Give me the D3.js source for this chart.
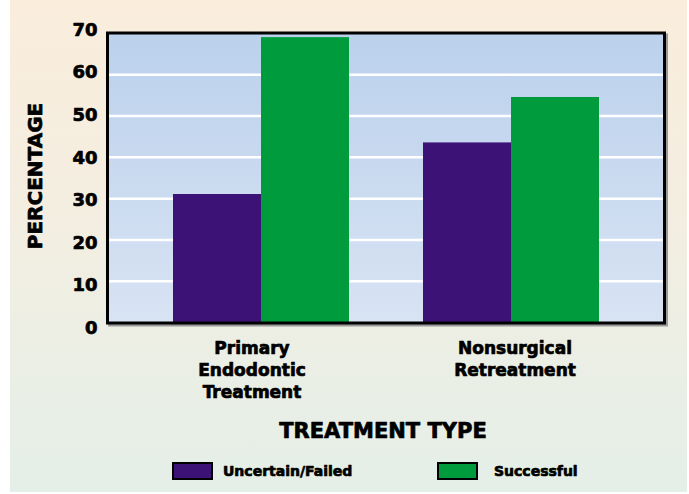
<!DOCTYPE html>
<html>
<head>
<meta charset="utf-8">
<script src="https://cdn.jsdelivr.net/npm/d3@7"></script>
<style>
  html, body { margin: 0; padding: 0; background: #ffffff; }
  svg { display: block; }
  text { font-family: "DejaVu Sans", "Liberation Sans", sans-serif; font-weight: bold; fill: #000;
         stroke: #000; stroke-width: 0.7px; stroke-linejoin: round; }
</style>
</head>
<body>
<svg id="chart" width="689" height="494"></svg>
<script>
// Outcome percentages by treatment type
const categories = ["Primary Endodontic Treatment", "Nonsurgical Retreatment"];
const categoryLines = [["Primary", "Endodontic", "Treatment"], ["Nonsurgical", "Retreatment"]];
const seriesNames = ["Uncertain/Failed", "Successful"];
const uncertainFailed = [31, 43.5];
const successful = [69, 54.5];
const yTicks = [0, 10, 20, 30, 40, 50, 60, 70];
const seriesColors = ["#3d1277", "#009b3c"];

const svg = d3.select("#chart");
const plot = { left: 107.5, right: 664.5, top: 33, bottom: 322 };

// gradients
const defs = svg.append("defs");
const bgGrad = defs.append("linearGradient").attr("id", "bgGrad")
  .attr("x1", 0).attr("y1", 0).attr("x2", 0).attr("y2", 1);
bgGrad.append("stop").attr("offset", "0%").attr("stop-color", "#faeddc");
bgGrad.append("stop").attr("offset", "45%").attr("stop-color", "#f3eee1");
bgGrad.append("stop").attr("offset", "100%").attr("stop-color", "#e4efe8");

const plotGrad = defs.append("linearGradient").attr("id", "plotGrad")
  .attr("x1", 0).attr("y1", 0).attr("x2", 0).attr("y2", 1);
plotGrad.append("stop").attr("offset", "0%").attr("stop-color", "#bbd1ec");
plotGrad.append("stop").attr("offset", "100%").attr("stop-color", "#d8e3f3");

// page panel
svg.append("rect").attr("x", 10).attr("y", 0).attr("width", 677).attr("height", 492)
  .attr("fill", "url(#bgGrad)");

// scales
const x0 = d3.scaleBand().domain(categories)
  .range([plot.left, plot.right]).paddingInner(0.296).paddingOuter(0.262);
const x1 = d3.scaleBand().domain(seriesNames).range([0, x0.bandwidth()]);
const y = d3.scaleLinear().domain([0, 70]).range([plot.bottom, plot.top]);
// tick labels sit on a slightly wider spread than the gridlines
const yLabel = d3.scaleLinear().domain([0, 70]).range([327, 28.7]);

// frame shadow and plot background
svg.append("rect").attr("x", plot.left + 2).attr("y", plot.top + 2)
  .attr("width", plot.right - plot.left).attr("height", plot.bottom - plot.top + 1)
  .attr("fill", "none").attr("stroke", "#9a9a9a").attr("stroke-width", 3);
svg.append("rect").attr("x", plot.left).attr("y", plot.top)
  .attr("width", plot.right - plot.left).attr("height", plot.bottom - plot.top)
  .attr("fill", "url(#plotGrad)");

// gridlines
const yAxisGrid = d3.axisLeft(y).tickValues(yTicks.slice(1, -1))
  .tickSize(-(plot.right - plot.left)).tickFormat("");
svg.append("g").attr("transform", `translate(${plot.left},0)`).call(yAxisGrid)
  .call(g => g.select(".domain").remove())
  .call(g => g.selectAll("line").attr("stroke", "#ffffff").attr("stroke-width", 2.5));

// bars
const rows = categories.map((c, i) => ({ cat: c, values: [uncertainFailed[i], successful[i]] }));
const groups = svg.append("g").selectAll("g").data(rows).join("g")
  .attr("transform", d => `translate(${x0(d.cat)},0)`);
groups.selectAll("rect").data(d => d.values.map((v, k) => ({ name: seriesNames[k], v, k })))
  .join("rect")
  .attr("x", d => x1(d.name))
  .attr("y", d => y(d.v))
  .attr("width", x1.bandwidth())
  .attr("height", d => y(0) - y(d.v))
  .attr("fill", d => seriesColors[d.k]);

// frame
svg.append("rect").attr("x", plot.left).attr("y", plot.top)
  .attr("width", plot.right - plot.left).attr("height", plot.bottom - plot.top + 1)
  .attr("fill", "none").attr("stroke", "#000").attr("stroke-width", 3);

// y tick labels
const yAxis = d3.axisLeft(yLabel).tickValues(yTicks).tickSize(0).tickPadding(10);
svg.append("g").attr("transform", `translate(${plot.left},0)`).call(yAxis)
  .call(g => g.select(".domain").remove())
  .call(g => g.selectAll("text").attr("font-size", 18)
    .attr("font-family", "DejaVu Sans").attr("font-weight", "bold").attr("fill", "#000")
    .attr("dy", "0.36em"));

// category labels
const catLabels = svg.append("g").selectAll("text").data(categories).join("text")
  .attr("text-anchor", "middle").attr("font-size", 17)
  .attr("transform", (d, i) => `translate(${x0(d) + x0.bandwidth() / 2 + (i === 0 ? -9 : 4)},354)`);
catLabels.selectAll("tspan").data((d, i) => categoryLines[i]).join("tspan")
  .attr("x", 0).attr("dy", (d, j) => j === 0 ? 0 : 22).text(d => d);

// axis titles
svg.append("text").attr("x", 383).attr("y", 438).attr("text-anchor", "middle")
  .attr("font-size", 21).text("TREATMENT TYPE");
svg.append("text").attr("transform", "translate(42,176) rotate(-90)")
  .attr("text-anchor", "middle").attr("font-size", 20).text("PERCENTAGE");

// legend
const legendX = [172, 437];
const legendTextX = [223, 494];
const legend = svg.append("g").selectAll("g").data(seriesNames).join("g");
legend.append("rect").attr("x", (d, i) => legendX[i] + 1).attr("y", 463)
  .attr("width", 39).attr("height", 16)
  .attr("fill", (d, i) => seriesColors[i]).attr("stroke", "#000").attr("stroke-width", 2);
legend.append("text").attr("x", (d, i) => legendTextX[i]).attr("y", 476)
  .attr("font-size", 14).text(d => d);
</script>
</body>
</html>
